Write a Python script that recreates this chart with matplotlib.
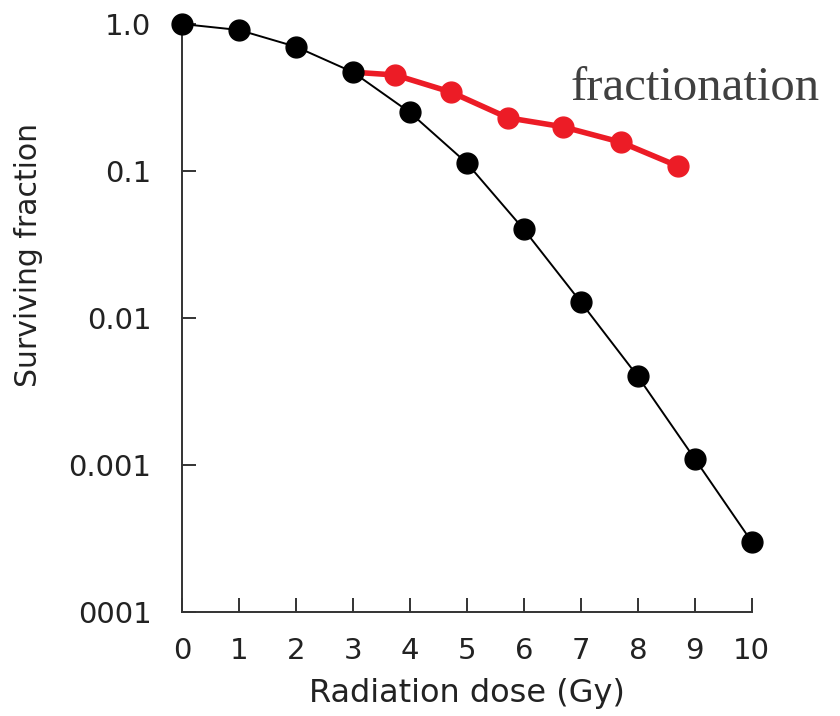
import matplotlib
matplotlib.use("Agg")
import matplotlib.pyplot as plt
from matplotlib.ticker import NullLocator

# Data
dose = [0, 1, 2, 3, 4, 5, 6, 7, 8, 9, 10]
single_survival = [1.0, 0.91, 0.70, 0.47, 0.25, 0.113, 0.040, 0.0128, 0.0040, 0.0011, 0.0003]

frac_dose = [3.0, 3.74, 4.72, 5.72, 6.68, 7.70, 8.70]
frac_survival = [0.47, 0.45, 0.344, 0.23, 0.20, 0.157, 0.108]

x_ticks = [0, 1, 2, 3, 4, 5, 6, 7, 8, 9, 10]
y_ticks = [1.0, 0.1, 0.01, 0.001, 0.0001]
y_tick_labels = ["1.0", "0.1", "0.01", "0.001", "0001"]

plt.rcParams['font.family'] = ['DejaVu Sans']

fig = plt.figure(figsize=(8.4, 7.16), dpi=100)
ax = fig.add_axes([0.2167, 0.1453, 0.895 - 0.2167, 0.9665 - 0.1453])

ax.plot(dose, single_survival, color='black', lw=1.4, marker='o', ms=15,
        mfc='black', mec='black', clip_on=False, zorder=3)
ax.plot(frac_dose, frac_survival, color='#ec1c26', lw=4, marker='o', ms=15,
        mfc='#ec1c26', mec='#ec1c26', markevery=list(range(1, len(frac_dose))),
        clip_on=False, zorder=2)

ax.set_yscale('log')
ax.set_xlim(0, 10)
ax.set_ylim(0.0001, 1.0)
ax.set_xticks(x_ticks)
ax.set_xticklabels([str(t) for t in x_ticks])
ax.set_yticks(y_ticks)
ax.set_yticklabels(y_tick_labels)
ax.yaxis.set_minor_locator(NullLocator())

for s in ['top', 'right']:
    ax.spines[s].set_visible(False)
for s in ['left', 'bottom']:
    ax.spines[s].set_linewidth(1.4)
    ax.spines[s].set_color('#333333')

ax.tick_params(axis='x', direction='in', length=10, width=1.4, color='#333333',
               labelsize=21, pad=18, labelcolor='#222222')
ax.tick_params(axis='y', direction='in', length=10, width=1.4, color='#333333',
               labelsize=21, pad=22, labelcolor='#222222')

ax.set_xlabel("Radiation dose (Gy)", fontsize=23, color='#222222', va='top')
ax.xaxis.set_label_coords(0.5, -0.112)
ax.set_ylabel("Surviving fraction", fontsize=21.5, color='#222222', va='bottom')
ax.yaxis.set_label_coords(-0.244, 0.607)

ax.text(0.6786, 0.8603, "fractionation", transform=fig.transFigure,
        family=['Liberation Serif', 'DejaVu Serif'], fontsize=35, color='#404040',
        ha='left', va='baseline')

fig.savefig("out.png", dpi=100)
